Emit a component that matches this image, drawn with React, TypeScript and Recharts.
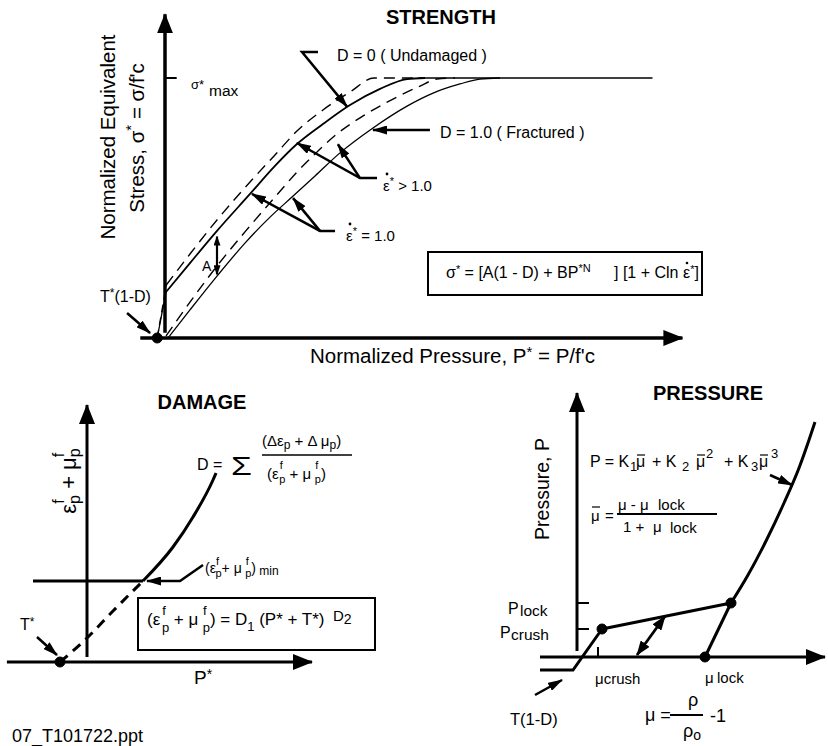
import React from 'react'
import { ComposedChart, Line, XAxis, YAxis } from 'recharts'

type Pt = { x: number; y: number }

// ---------- STRENGTH: x = P* (normalized pressure), y = σ* (normalized stress) ----------
// tension branch from the T*(1-D) intercept up to the σ* axis
const intactFastTension: Pt[] = [{ x: -0.06, y: 0 }, { x: 0.01, y: 0.204 }]
const intactRefTension: Pt[] = [{ x: -0.06, y: 0 }, { x: 0.008, y: 0.177 }]
const intactFast: Pt[] = [
  { x: 0.01, y: 0.204 }, { x: 0.192, y: 0.323 }, { x: 0.4, y: 0.454 },
  { x: 0.654, y: 0.6 }, { x: 0.846, y: 0.704 }, { x: 1.015, y: 0.796 }, { x: 1.215, y: 0.877 },
  { x: 1.423, y: 0.946 }, { x: 1.608, y: 1.0 }, { x: 1.95, y: 1.0 },
]
const intactRef: Pt[] = [
  { x: 0.008, y: 0.177 }, { x: 0.192, y: 0.288 }, { x: 0.4, y: 0.412 },
  { x: 0.654, y: 0.554 }, { x: 0.846, y: 0.662 }, { x: 1.015, y: 0.746 }, { x: 1.215, y: 0.823 },
  { x: 1.423, y: 0.896 }, { x: 1.654, y: 0.958 }, { x: 1.862, y: 0.996 }, { x: 2.0, y: 1.0 },
]
const fracturedFast: Pt[] = [
  { x: 0.008, y: 0.008 }, { x: 0.192, y: 0.138 }, { x: 0.4, y: 0.277 }, { x: 0.615, y: 0.408 },
  { x: 0.846, y: 0.542 }, { x: 1.015, y: 0.638 }, { x: 1.138, y: 0.7 }, { x: 1.323, y: 0.785 },
  { x: 1.523, y: 0.854 }, { x: 1.754, y: 0.919 }, { x: 1.962, y: 0.969 }, { x: 2.092, y: 0.996 },
  { x: 2.231, y: 1.0 },
]
const fracturedRef: Pt[] = [
  { x: 0.023, y: 0 }, { x: 0.192, y: 0.108 }, { x: 0.4, y: 0.238 }, { x: 0.615, y: 0.365 },
  { x: 0.808, y: 0.465 }, { x: 0.977, y: 0.542 }, { x: 1.154, y: 0.623 }, { x: 1.346, y: 0.712 },
  { x: 1.6, y: 0.808 }, { x: 1.862, y: 0.892 }, { x: 2.062, y: 0.942 }, { x: 2.269, y: 0.977 },
  { x: 2.423, y: 0.996 }, { x: 2.577, y: 1.0 },
]
const strengthCap: Pt[] = [{ x: 1.95, y: 1.0 }, { x: 3.75, y: 1.0 }]
const strengthAxisY: Pt[] = [{ x: 0, y: 0.02 }, { x: 0, y: 1.245 }]
const strengthAxisX: Pt[] = [{ x: -0.19, y: 0 }, { x: 3.98, y: 0 }]
const sigmaMaxTick: Pt[] = [{ x: 0, y: 1 }, { x: 0.09, y: 1 }]
const strengthOrigin: Pt[] = [{ x: -0.06, y: 0 }]
const undamagedPointer: Pt[] = [{ x: 1.177, y: 1.1 }, { x: 1.054, y: 1.1 }, { x: 1.4, y: 0.89 }]
const fracturedPointer: Pt[] = [{ x: 2.038, y: 0.8 }, { x: 1.6, y: 0.8 }]
const fastPointerA: Pt[] = [{ x: 1.631, y: 0.615 }, { x: 1.5, y: 0.615 }, { x: 1.015, y: 0.75 }]
const fastPointerB: Pt[] = [{ x: 1.5, y: 0.615 }, { x: 1.33, y: 0.745 }]
const refPointerA: Pt[] = [{ x: 1.308, y: 0.412 }, { x: 1.192, y: 0.412 }, { x: 0.669, y: 0.554 }]
const refPointerB: Pt[] = [{ x: 1.192, y: 0.412 }, { x: 0.985, y: 0.538 }]
const cohesionSpan: Pt[] = [{ x: 0.4, y: 0.39 }, { x: 0.4, y: 0.245 }]
const tensionPointer: Pt[] = [{ x: -0.292, y: 0.096 }, { x: -0.115, y: 0.019 }]

// ---------- DAMAGE: x = P*, y = εf p + μf p ----------
const damageBelowMin: Pt[] = [{ x: -0.6, y: 0 }, { x: 0, y: 0.48 }, { x: 0.578, y: 1.02 }, { x: 1.244, y: 1.62 }]
const damageAboveMin: Pt[] = [
  { x: 1.244, y: 1.62 }, { x: 1.911, y: 2.3 }, { x: 2.356, y: 2.9 }, { x: 2.8, y: 3.64 }, { x: 2.867, y: 3.78 },
]
const minStrainLine: Pt[] = [{ x: -1.2, y: 1.62 }, { x: 1.244, y: 1.62 }]
const minPointer: Pt[] = [{ x: 2.578, y: 1.94 }, { x: 2.067, y: 1.62 }, { x: 1.333, y: 1.62 }]
const tStarPointer: Pt[] = [{ x: -1.111, y: 0.5 }, { x: -0.667, y: 0.14 }]
const damageAxisY: Pt[] = [{ x: 0, y: 0.1 }, { x: 0, y: 5.14 }]
const damageAxisX: Pt[] = [{ x: -1.78, y: 0 }, { x: 5.0, y: 0 }]
const damageOrigin: Pt[] = [{ x: -0.6, y: 0 }]

// ---------- PRESSURE: x = μ (volumetric strain), y = P ----------
const tensionCut: Pt[] = [{ x: -0.925, y: -0.325 }, { x: -0.1, y: -0.325 }, { x: 0.625, y: 0.7 }]
const compaction: Pt[] = [{ x: 0.625, y: 0.7 }, { x: 3.85, y: 1.35 }]
const lockedCurve: Pt[] = [
  { x: 3.85, y: 1.35 }, { x: 4.275, y: 2.05 }, { x: 4.75, y: 2.95 }, { x: 5.175, y: 3.85 },
  { x: 5.55, y: 4.725 }, { x: 5.8, y: 5.425 }, { x: 5.95, y: 5.875 },
]
const unloadLine: Pt[] = [{ x: 3.2, y: 0 }, { x: 3.85, y: 1.35 }]
const crushPoint: Pt[] = [{ x: 0.625, y: 0.7 }]
const lockPoint: Pt[] = [{ x: 3.85, y: 1.35 }]
const lockStrainPoint: Pt[] = [{ x: 3.2, y: 0 }]
const pLockTick: Pt[] = [{ x: 0, y: 1.35 }, { x: 0.3, y: 1.35 }]
const pCrushTick: Pt[] = [{ x: 0, y: 0.7 }, { x: 0.3, y: 0.7 }]
const muCrushTick: Pt[] = [{ x: 0.525, y: 0 }, { x: 0.525, y: 0.25 }]
const reloadSpan: Pt[] = [{ x: 1.5, y: 0.05 }, { x: 2.2, y: 1.02 }]
const eosPointer: Pt[] = [{ x: 4.825, y: 4.55 }, { x: 5.375, y: 4.3 }]
const tensionPointerP: Pt[] = [{ x: -1.05, y: -0.95 }, { x: -0.375, y: -0.575 }]
const pressureAxisY: Pt[] = [{ x: 0, y: 0.15 }, { x: 0, y: 6.6 }]
const pressureAxisX: Pt[] = [{ x: -0.925, y: 0 }, { x: 6.2, y: 0 }]

const ink = '#000'
const FONT = "'Liberation Sans', Arial, Helvetica, sans-serif"

function trace(
  key: string,
  data: Pt[],
  width: number,
  opts: { dash?: string; curve?: boolean; head?: string; both?: boolean } = {},
) {
  const m = opts.head ? `url(#${opts.head})` : undefined
  return (
    <Line
      key={key}
      data={data}
      dataKey="y"
      type={opts.curve ? 'monotone' : 'linear'}
      stroke={ink}
      strokeWidth={width}
      strokeDasharray={opts.dash}
      dot={false}
      activeDot={false}
      isAnimationActive={false}
      markerEnd={m}
      markerStart={opts.both ? m : undefined}
    />
  )
}

function blob(key: string, data: Pt[], r: number) {
  return (
    <Line
      key={key}
      data={data}
      dataKey="y"
      stroke="none"
      dot={{ r, fill: ink, stroke: ink, strokeWidth: 1 }}
      activeDot={false}
      isAnimationActive={false}
    />
  )
}

function Panel(props: {
  left: number
  top: number
  width: number
  height: number
  xDomain: [number, number]
  yDomain: [number, number]
  children: React.ReactNode
}) {
  return (
    <div style={{ position: 'absolute', left: props.left, top: props.top }}>
      <ComposedChart width={props.width} height={props.height} margin={{ top: 0, right: 0, bottom: 0, left: 0 }}>
        <XAxis type="number" dataKey="x" domain={props.xDomain} hide allowDataOverflow scale="linear" />
        <YAxis type="number" domain={props.yDomain} hide allowDataOverflow scale="linear" />
        {props.children}
      </ComposedChart>
    </div>
  )
}

export default function App() {
  return (
    <div
      style={{
        position: 'absolute', left: 0, top: 0, width: 828, height: 746,
        background: '#fff', overflow: 'hidden', fontFamily: FONT,
      }}
    >
      <svg width={0} height={0} style={{ position: 'absolute' }}>
        <defs>
          <marker id="axisHead" viewBox="0 0 20 16" refX={19} refY={8} markerWidth={20} markerHeight={16} markerUnits="userSpaceOnUse" orient="auto">
            <path d="M0,0 L20,8 L0,16 Z" fill={ink} />
          </marker>
          <marker id="leadHead" viewBox="0 0 15 9" refX={14} refY={4.5} markerWidth={15} markerHeight={9} markerUnits="userSpaceOnUse" orient="auto">
            <path d="M0,0 L15,4.5 L0,9 Z" fill={ink} />
          </marker>
          <marker id="bothHead" viewBox="0 0 15 11" refX={14} refY={5.5} markerWidth={15} markerHeight={11} markerUnits="userSpaceOnUse" orient="auto-start-reverse">
            <path d="M0,0 L15,5.5 L0,11 Z" fill={ink} />
          </marker>
          <marker id="smallHead" viewBox="0 0 10 7" refX={9} refY={3.5} markerWidth={10} markerHeight={7} markerUnits="userSpaceOnUse" orient="auto-start-reverse">
            <path d="M0,0 L10,3.5 L0,7 Z" fill={ink} />
          </marker>
        </defs>
      </svg>

      {/* strength surface */}
      <Panel left={100} top={0} width={585} height={377} xDomain={[-0.5, 4.0]} yDomain={[-0.15, 1.3]}>
        {trace('sAxY', strengthAxisY, 3.5, { head: 'axisHead' })}
        {trace('sAxX', strengthAxisX, 3.5, { head: 'axisHead' })}
        {trace('sTick', sigmaMaxTick, 2)}
        {trace('iFastT', intactFastTension, 1.3, { dash: '8 5' })}
        {trace('iRefT', intactRefTension, 1.3)}
        {trace('iFast', intactFast, 1.4, { curve: true, dash: '11 7' })}
        {trace('iRef', intactRef, 1.8, { curve: true })}
        {trace('fFast', fracturedFast, 1.4, { curve: true, dash: '11 7' })}
        {trace('fRef', fracturedRef, 1.3, { curve: true })}
        {trace('cap', strengthCap, 1.6)}
        {trace('pU', undamagedPointer, 2.5, { head: 'leadHead' })}
        {trace('pF', fracturedPointer, 2.5, { head: 'leadHead' })}
        {trace('pFa', fastPointerA, 2.5, { head: 'leadHead' })}
        {trace('pFb', fastPointerB, 2.5, { head: 'leadHead' })}
        {trace('pRa', refPointerA, 2.5, { head: 'leadHead' })}
        {trace('pRb', refPointerB, 2.5, { head: 'leadHead' })}
        {trace('pA', cohesionSpan, 2.2, { head: 'smallHead', both: true })}
        {trace('pT', tensionPointer, 2.5, { head: 'leadHead' })}
        {blob('sO', strengthOrigin, 5)}
      </Panel>

      {/* damage */}
      <Panel left={6} top={392} width={324} height={290} xDomain={[-1.8, 5.4]} yDomain={[-0.4, 5.4]}>
        {trace('dAxY', damageAxisY, 3, { head: 'axisHead' })}
        {trace('dAxX', damageAxisX, 3, { head: 'axisHead' })}
        {trace('dMin', minStrainLine, 3)}
        {trace('dLow', damageBelowMin, 3, { curve: true, dash: '10 7' })}
        {trace('dHigh', damageAboveMin, 3, { curve: true })}
        {trace('dPm', minPointer, 2.5, { head: 'leadHead' })}
        {trace('dPt', tStarPointer, 2.5, { head: 'leadHead' })}
        {blob('dO', damageOrigin, 5)}
      </Panel>

      {/* pressure */}
      <Panel left={529} top={385} width={298} height={316} xDomain={[-1.2, 6.25]} yDomain={[-1.1, 6.8]}>
        {trace('pAxY', pressureAxisY, 3, { head: 'axisHead' })}
        {trace('pAxX', pressureAxisX, 3, { head: 'axisHead' })}
        {trace('pLt', pLockTick, 2)}
        {trace('pCt', pCrushTick, 2)}
        {trace('mCt', muCrushTick, 2)}
        {trace('tc', tensionCut, 3)}
        {trace('cp', compaction, 3)}
        {trace('lk', lockedCurve, 3, { curve: true })}
        {trace('ul', unloadLine, 3)}
        {trace('rs', reloadSpan, 2.8, { head: 'bothHead', both: true })}
        {trace('ep', eosPointer, 2.5, { head: 'leadHead' })}
        {trace('tp', tensionPointerP, 2.5, { head: 'leadHead' })}
        {blob('cr', crushPoint, 5)}
        {blob('lo', lockPoint, 5)}
        {blob('ls', lockStrainPoint, 5)}
      </Panel>

      {/* titles, labels and equations */}
      <svg width={828} height={746} style={{ position: 'absolute', left: 0, top: 0, pointerEvents: 'none' }} fontFamily={FONT} fill={ink}>
        {/* strength */}
        <text x={441} y={24} textAnchor="middle" fontSize={20} fontWeight="bold">STRENGTH</text>
        <text transform="translate(115 137) rotate(-90)" textAnchor="middle" fontSize={20.5}>Normalized Equivalent</text>
        <text transform="translate(144 138) rotate(-90)" textAnchor="middle" fontSize={20.5}>
          Stress, σ<tspan dy={-8} fontSize={15}>*</tspan><tspan dy={8}> = σ/f'c</tspan>
        </text>
        <text x={310} y={363} fontSize={20.5}>
          Normalized Pressure, P<tspan dy={-6} fontSize={15}>*</tspan><tspan dy={6}> = P/f'c</tspan>
        </text>
        <text x={191} y={89} fontSize={13}>σ*</text>
        <text x={209} y={96} fontSize={15.5}>max</text>
        <text x={337} y={61} fontSize={16}>D = 0 ( Undamaged  )</text>
        <text x={440} y={138} fontSize={16}>D = 1.0 ( Fractured  )</text>
        <text x={383} y={191} fontSize={15}>ε<tspan dy={-6} fontSize={11}>*</tspan><tspan dy={6}> &gt; 1.0</tspan></text>
        <circle cx={387} cy={174} r={1.4} />
        <text x={346} y={241} fontSize={15}>ε<tspan dy={-6} fontSize={11}>*</tspan><tspan dy={6}> = 1.0</tspan></text>
        <circle cx={350} cy={224} r={1.4} />
        <text x={202} y={271} fontSize={14}>A</text>
        <text x={100} y={302} fontSize={16}>T<tspan dy={-5} fontSize={12}>*</tspan><tspan dy={5}>(1-D)</tspan></text>
        <rect x={428} y={252} width={274} height={43} fill="none" stroke={ink} strokeWidth={2} />
        <text x={446} y={278} fontSize={16}>
          σ<tspan dy={-5} fontSize={11}>*</tspan><tspan dy={5}> = [A(1 - D) + BP</tspan><tspan dy={-6} fontSize={11}>*N</tspan>
        </text>
        <text x={614} y={278} fontSize={16}>] [1 + Cln</text>
        <text x={683} y={278} fontSize={16}>ε<tspan dy={-5} fontSize={11}>*</tspan><tspan dy={5}>]</tspan></text>
        <circle cx={687} cy={263} r={1.3} />

        {/* damage */}
        <text x={202} y={409} textAnchor="middle" fontSize={20} fontWeight="bold">DAMAGE</text>
        <text transform="translate(76 481) rotate(-90)" textAnchor="middle" fontSize={22}>
          ε<tspan fontSize={16} dy={-12}>f</tspan><tspan fontSize={16} dx={-4.5} dy={16}>p</tspan>
          <tspan dy={-4}> + μ</tspan><tspan fontSize={16} dy={-12}>f</tspan><tspan fontSize={16} dx={-4.5} dy={16}>p</tspan>
        </text>
        <text x={197} y={470} fontSize={16}>D =</text>
        <text transform="translate(231 475) scale(1.3 1)" fontSize={26}>Σ</text>
        <text x={262} y={446} fontSize={15}>
          (Δε<tspan fontSize={12} dy={3}>p</tspan><tspan dy={-3}> + Δ μ</tspan><tspan fontSize={12} dy={3}>p</tspan><tspan dy={-3}>)</tspan>
        </text>
        <line x1={262} y1={455} x2={352} y2={455} stroke={ink} strokeWidth={1.5} />
        <text x={267} y={479} fontSize={15}>
          (ε<tspan fontSize={11} dx={1} dy={-10}>f</tspan><tspan fontSize={11} dx={-3.5} dy={14}>p</tspan>
          <tspan dy={-4}> + μ </tspan><tspan fontSize={11} dy={-10}>f</tspan><tspan fontSize={11} dx={-3.5} dy={14}>p</tspan><tspan dy={-4}>)</tspan>
        </text>
        <text x={205} y={573} fontSize={14}>
          (ε<tspan fontSize={11} dy={-8}>f</tspan><tspan fontSize={11} dx={-3.5} dy={12}>p</tspan>
          <tspan dy={-4}>+ μ </tspan><tspan fontSize={11} dy={-8}>f</tspan><tspan fontSize={11} dx={-3.5} dy={12}>p</tspan>
          <tspan dy={-4}>)</tspan><tspan fontSize={12} dy={2}> min</tspan>
        </text>
        <rect x={138} y={598} width={237} height={52} fill="none" stroke={ink} strokeWidth={2} />
        <text x={147} y={625} fontSize={17}>
          (ε<tspan fontSize={13} dx={2} dy={-10}>f</tspan><tspan fontSize={13} dx={-4} dy={17}>p</tspan>
          <tspan dy={-7}> + μ </tspan><tspan fontSize={13} dy={-10}>f</tspan><tspan fontSize={13} dx={-4} dy={17}>p</tspan>
          <tspan dy={-7}>) = D</tspan><tspan fontSize={13} dy={6}>1</tspan><tspan dy={-6}> (P* + T*)</tspan>
        </text>
        <text x={333} y={621} fontSize={15}>D<tspan dy={3} fontSize={14}>2</tspan></text>
        <text x={20} y={630} fontSize={16}>T<tspan fontSize={12} dy={-4}>*</tspan></text>
        <text x={194} y={684} fontSize={19}>P<tspan fontSize={14} dy={-5}>*</tspan></text>
        <text x={12} y={742} fontSize={18}>07_T101722.ppt</text>

        {/* pressure */}
        <text x={708} y={400} textAnchor="middle" fontSize={20} fontWeight="bold">PRESSURE</text>
        <text transform="translate(549 489) rotate(-90)" textAnchor="middle" fontSize={19.5}>Pressure, P</text>
        <text x={590} y={467} fontSize={16}>P = K</text>
        <text x={630} y={471} fontSize={13}>1</text>
        <text x={636} y={467} fontSize={16}>μ</text>
        <line x1={637} y1={455} x2={645} y2={455} stroke={ink} strokeWidth={1.2} />
        <text x={652} y={467} fontSize={16}>+ K</text>
        <text x={682} y={471} fontSize={13}>2</text>
        <text x={696} y={467} fontSize={16}>μ</text>
        <line x1={697} y1={455} x2={705} y2={455} stroke={ink} strokeWidth={1.2} />
        <text x={706} y={458} fontSize={13}>2</text>
        <text x={724} y={467} fontSize={16}>+ K</text>
        <text x={751} y={471} fontSize={13}>3</text>
        <text x={759} y={467} fontSize={16}>μ</text>
        <line x1={760} y1={455} x2={768} y2={455} stroke={ink} strokeWidth={1.2} />
        <text x={771} y={458} fontSize={13}>3</text>

        <text x={591} y={521} fontSize={15}>μ</text>
        <line x1={592} y1={507} x2={600} y2={507} stroke={ink} strokeWidth={1.2} />
        <text x={605} y={521} fontSize={15}>=</text>
        <text x={618} y={510} fontSize={15}>μ - μ</text>
        <text x={658} y={510} fontSize={15}>lock</text>
        <line x1={617} y1={514} x2={717} y2={514} stroke={ink} strokeWidth={1.8} />
        <text x={623} y={532} fontSize={15}>1 +</text>
        <text x={653} y={532} fontSize={15}>μ</text>
        <text x={670} y={533} fontSize={15}>lock</text>

        <text x={508} y={614} fontSize={16}>P</text>
        <text x={520} y={616} fontSize={15.5}>lock</text>
        <text x={500} y={638} fontSize={16}>P</text>
        <text x={511} y={640} fontSize={15.5}>crush</text>
        <text x={595} y={684} fontSize={15}>μcrush</text>
        <text x={705} y={683} fontSize={15}>μ</text>
        <text x={717} y={683} fontSize={15}>lock</text>
        <text x={510} y={725} fontSize={16.5}>T(1-D)</text>
        <text x={645} y={721} fontSize={18}>μ =</text>
        <line x1={670} y1={715} x2={703} y2={715} stroke={ink} strokeWidth={1.8} />
        <text x={688} y={706} fontSize={18}>ρ</text>
        <text x={683} y={737} fontSize={18}>ρ<tspan fontSize={14} dy={3}>o</tspan></text>
        <text x={710} y={722} fontSize={18}>-1</text>
      </svg>
    </div>
  )
}
